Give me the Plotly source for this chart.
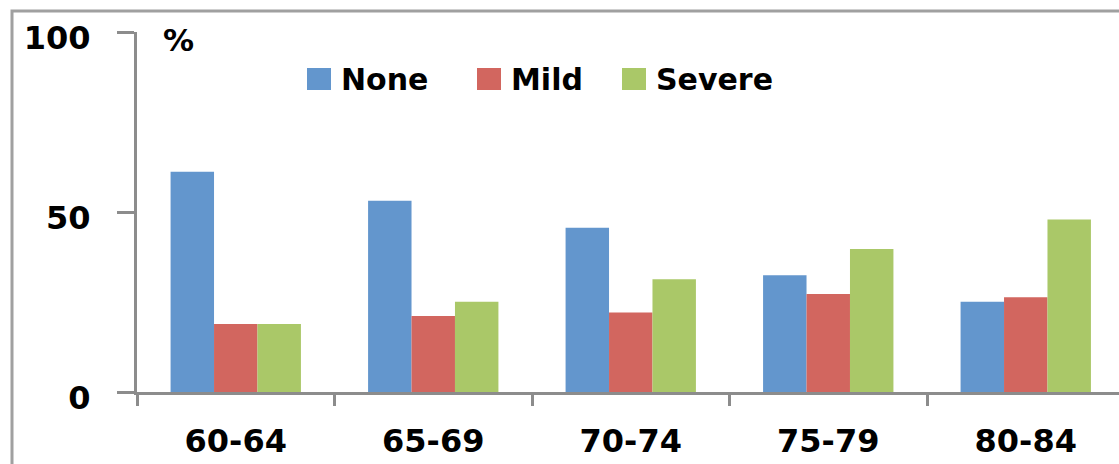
import plotly.graph_objects as go

# Age groups and share (%) of each severity level
age_groups = ["60-64", "65-69", "70-74", "75-79", "80-84"]
none_pct = [61.2, 53.1, 45.6, 32.4, 25.1]
mild_pct = [18.9, 21.1, 22.1, 27.2, 26.3]
severe_pct = [18.9, 25.1, 31.3, 39.7, 47.9]

series_names = ["None", "Mild", "Severe"]
series_colors = ["#6396CD", "#D2665F", "#AAC868"]
y_ticks = [0, 50, 100]

W, H = 1119, 464
L, T, B = 137, 32, 72
PW, PH = W - L, H - T - B
AXIS_GREY = "#8C8C8C"
FONT = "DejaVu Sans"


def px_x(x):
    return (x - L) / PW


def px_y(y):
    return (H - B - y) / PH


fig = go.Figure()
for name, vals, col in zip(series_names, [none_pct, mild_pct, severe_pct], series_colors):
    fig.add_trace(go.Bar(x=age_groups, y=vals, name=name,
                         marker=dict(color=col, line=dict(width=0))))

# category slot is 197.5 px wide; the last boundary sits just past the right edge
slot = 197.5
fig.update_xaxes(
    type="category", range=[-0.5, -0.5 + PW / slot],
    showline=True, linecolor=AXIS_GREY, linewidth=3,
    ticks="outside", tickson="boundaries", ticklen=11, tickwidth=3, tickcolor=AXIS_GREY,
    tickfont=dict(family=FONT, size=32, color="black", weight="bold"),
    ticklabelstandoff=19, showgrid=False, zeroline=False,
)
fig.update_yaxes(
    range=[0, 100], tickvals=y_ticks,
    showline=True, linecolor=AXIS_GREY, linewidth=3,
    ticks="outside", ticklen=17, tickwidth=3, tickcolor=AXIS_GREY,
    tickfont=dict(family=FONT, size=32, color="black", weight="bold"),
    ticklabelstandoff=20, ticklabelshift=6, showgrid=False, zeroline=False,
)

shapes = [
    # outer frame around the chart
    dict(type="rect", xref="paper", yref="paper",
         x0=px_x(12), x1=px_x(W + 20), y0=px_y(H + 20), y1=px_y(11),
         line=dict(color="#A0A0A0", width=3), fillcolor="rgba(0,0,0,0)", layer="below"),
]
annotations = [
    dict(text="%", xref="paper", yref="paper", x=px_x(161), y=px_y(20),
         xanchor="left", yanchor="top", showarrow=False,
         font=dict(family=FONT, size=31, color="black", weight="bold")),
]

# legend row: colour swatch followed by the series name
legend_swatch_x = [307, 477, 622]
for name, col, sx in zip(series_names, series_colors, legend_swatch_x):
    shapes.append(dict(type="rect", xref="paper", yref="paper",
                       x0=px_x(sx), x1=px_x(sx + 24), y0=px_y(90), y1=px_y(68),
                       line=dict(width=0), fillcolor=col))
    annotations.append(dict(text=name, xref="paper", yref="paper",
                            x=px_x(sx + 32), y=px_y(80), xanchor="left", yanchor="middle",
                            showarrow=False,
                            font=dict(family=FONT, size=30, color="black", weight="bold")))

fig.update_layout(
    width=W, height=H, margin=dict(l=L, r=0, t=T, b=B, pad=0),
    paper_bgcolor="white", plot_bgcolor="white",
    barmode="group", bargap=0.34, bargroupgap=0,
    showlegend=False, shapes=shapes, annotations=annotations,
)

fig.write_html("out.html")
